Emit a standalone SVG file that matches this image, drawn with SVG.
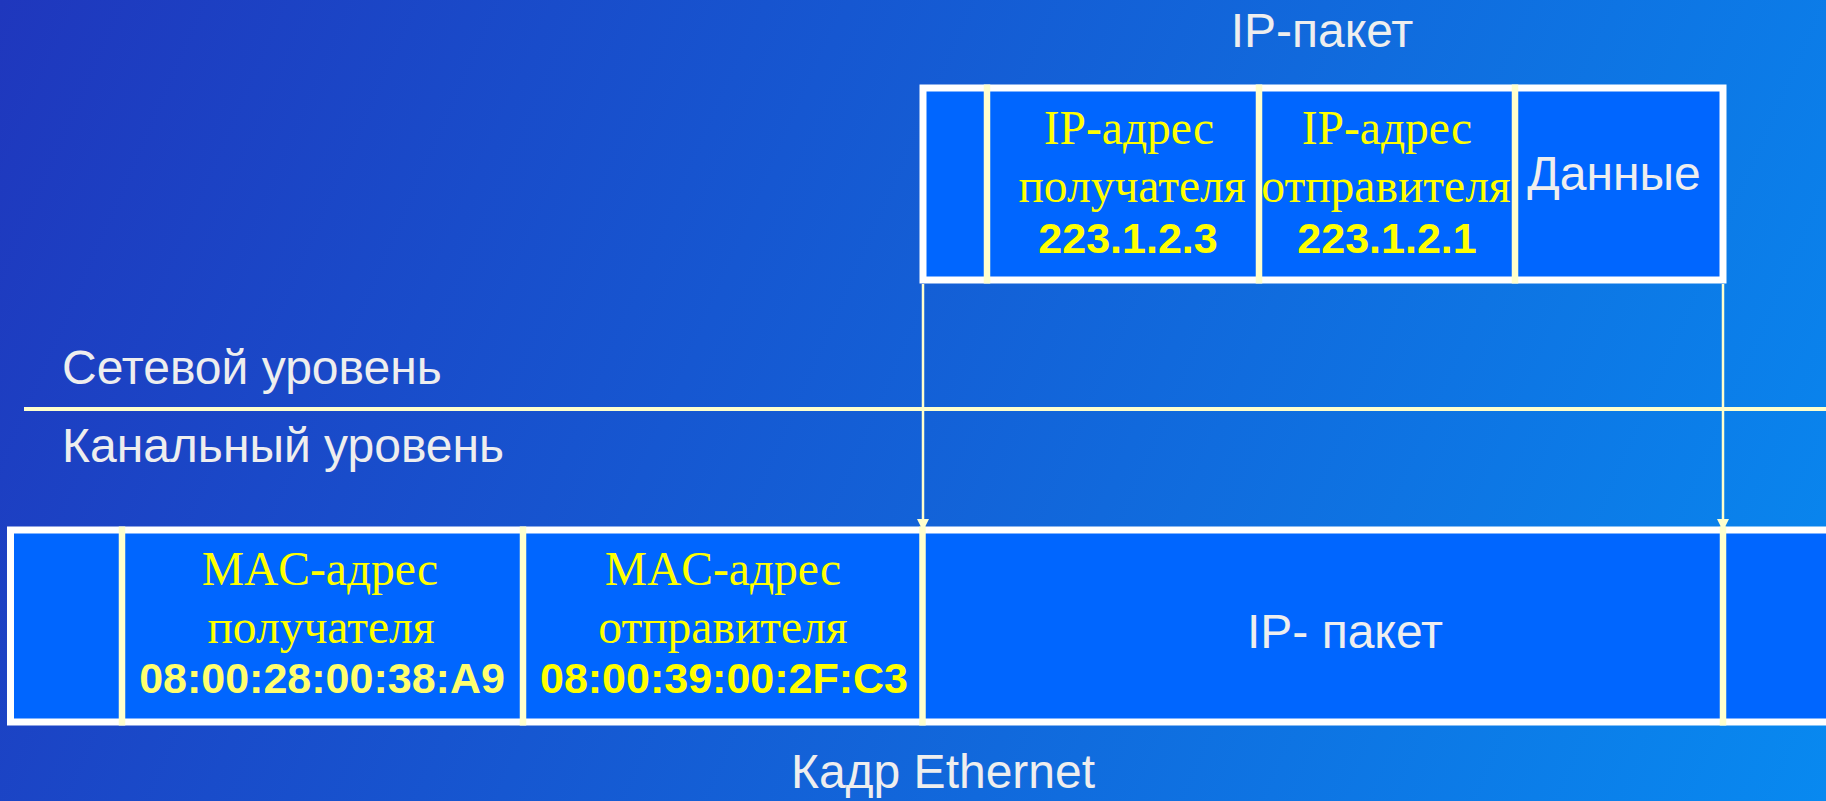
<svg xmlns="http://www.w3.org/2000/svg" width="1826" height="801" viewBox="0 0 1826 801">
<defs>
<linearGradient id="bg" x1="0" y1="0" x2="1826" y2="801" gradientUnits="userSpaceOnUse">
<stop offset="0" stop-color="#1F37BD"/>
<stop offset="1" stop-color="#0889F0"/>
</linearGradient>
<marker id="arr" markerUnits="userSpaceOnUse" markerWidth="14" markerHeight="14" viewBox="0 0 14 14" refX="12" refY="7" orient="auto">
<path d="M0,1 L12,7 L0,13 Z" fill="#FFFFCC"/>
</marker>
<style>
.frame{fill:#0066FF;stroke:#FFFFFF;stroke-width:7}
.div{stroke:#FFFFCC;stroke-width:6.5}
.lbl{font-family:"Liberation Sans",Arial,sans-serif;font-size:48px;fill:#EEEEEE}
.ser{font-family:"Liberation Serif","Times New Roman",serif;font-size:47.5px;fill:#FFFF00;text-anchor:middle}
.bold{font-family:"Liberation Sans",Arial,sans-serif;font-size:43px;font-weight:bold;fill:#FFFF00;text-anchor:middle}
.conn{stroke:#FFFFCC;stroke-width:2.5;fill:none}
</style>
</defs>
<rect width="1826" height="801" fill="url(#bg)"/>
<line x1="24" y1="409" x2="1826" y2="409" stroke="#FFFFCC" stroke-width="4"/>
<text class="lbl" x="62" y="384">Сетевой уровень</text>
<text class="lbl" x="62" y="462">Канальный уровень</text>
<g id="ip-packet">
<rect class="frame" x="923" y="88" width="800" height="192"/>
<line class="div" x1="987" y1="84.5" x2="987" y2="283.5"/>
<line class="div" x1="1259" y1="84.5" x2="1259" y2="283.5"/>
<line class="div" x1="1515" y1="84.5" x2="1515" y2="283.5"/>
<text class="lbl" x="1322" y="47" text-anchor="middle">IP-пакет</text>
<text class="ser" x="1129" y="144">IP-адрес</text>
<text class="ser" x="1132" y="202">получателя</text>
<text class="bold" x="1128" y="253">223.1.2.3</text>
<text class="ser" x="1387" y="144">IP-адрес</text>
<text class="ser" x="1386" y="202">отправителя</text>
<text class="bold" x="1387" y="253">223.1.2.1</text>
<text class="lbl" x="1614" y="190" text-anchor="middle">Данные</text>
</g>
<g id="ethernet-frame">
<rect class="frame" x="10.5" y="530" width="1830" height="192"/>
<line class="div" x1="122" y1="526.5" x2="122" y2="725.5"/>
<line class="div" x1="523" y1="526.5" x2="523" y2="725.5"/>
<line class="div" x1="922.5" y1="526.5" x2="922.5" y2="725.5"/>
<line class="div" x1="1723" y1="526.5" x2="1723" y2="725.5"/>
<text class="ser" x="320" y="585">MAC-адрес</text>
<text class="ser" x="321" y="643">получателя</text>
<text class="bold" x="322" y="693" style="fill:#FFFF6E">08:00:28:00:38:A9</text>
<text class="ser" x="723" y="585">MAC-адрес</text>
<text class="ser" x="723" y="643">отправителя</text>
<text class="bold" x="724" y="693">08:00:39:00:2F:C3</text>
<text class="lbl" x="1345" y="648" text-anchor="middle">IP- пакет</text>
<text class="lbl" x="943" y="788" text-anchor="middle">Кадр Ethernet</text>
</g>
<g id="connectors">
<line class="conn" x1="923" y1="284" x2="923" y2="531" marker-end="url(#arr)"/>
<line class="conn" x1="1723" y1="284" x2="1723" y2="531" marker-end="url(#arr)"/>
</g>
</svg>
